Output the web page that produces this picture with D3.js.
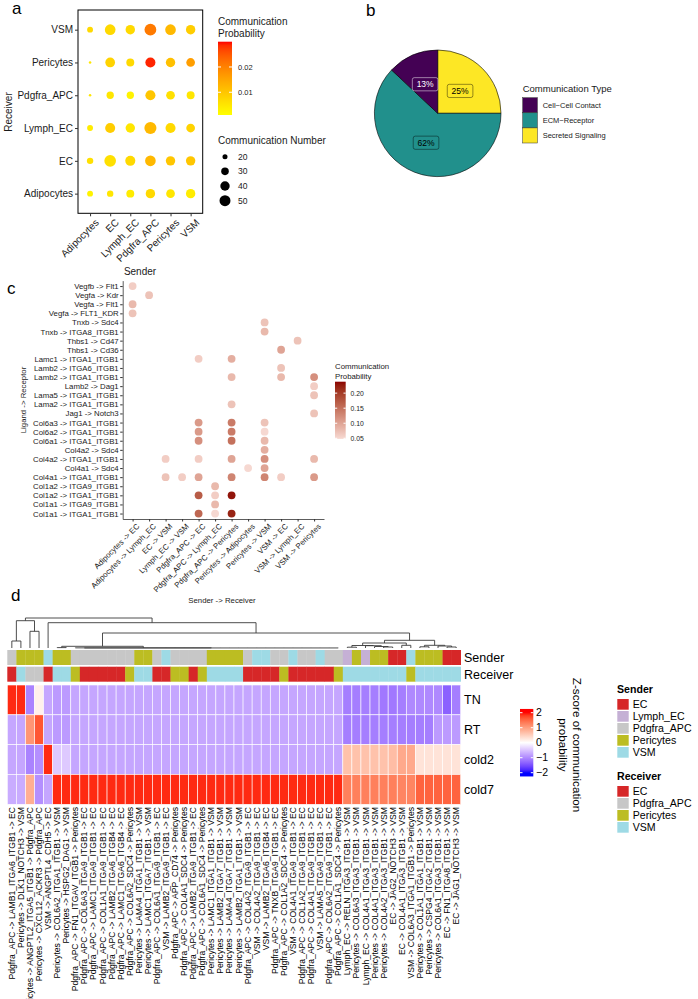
<!DOCTYPE html>
<html>
<head>
<meta charset="utf-8">
<script src="https://cdnjs.cloudflare.com/ajax/libs/d3/7.8.5/d3.min.js"></script>
<style>
  body { margin: 0; background: #fff; }
  svg { font-family: "Liberation Sans", Arial, sans-serif; }
</style>
</head>
<body>
<svg id="fig" width="698" height="999"></svg>
<script>
/*** DATA ***/
// a: bubble plot (rows = receiver, bottom to top; cols = sender)
var aCells = ["Adipocytes", "EC", "Lymph_EC", "Pdgfra_APC", "Pericytes", "VSM"];
var aNumber = [
  [23, 25, 32, 40, 36, 40],   // Adipocytes
  [25, 55, 44, 48, 40, 40],   // EC
  [23, 44, 40, 58, 44, 36],   // Lymph_EC
  [14, 29, 29, 44, 36, 32],   // Pdgfra_APC
  [14, 42, 32, 44, 40, 36],   // Pericytes
  [23, 48, 40, 56, 48, 40]    // VSM
];
var aProb = [
  [0.003, 0.005, 0.004, 0.007, 0.005, 0.004],
  [0.006, 0.006, 0.007, 0.012, 0.010, 0.010],
  [0.004, 0.009, 0.005, 0.012, 0.007, 0.008],
  [0.005, 0.005, 0.003, 0.010, 0.006, 0.005],
  [0.005, 0.008, 0.007, 0.029, 0.011, 0.016],
  [0.007, 0.007, 0.007, 0.021, 0.012, 0.009]
];
var aProbBreaks = [0.01, 0.02];
var aSizeBreaks = [20, 30, 40, 50];

// b: pie
var bTypes = ["Secreted Signaling", "ECM\u2212Receptor", "Cell\u2212Cell Contact"];
var bShare = [25, 62, 13];
var bLegend = ["Cell\u2212Cell Contact", "ECM\u2212Receptor", "Secreted Signaling"];

// c: ligand-receptor dot plot
var cPairs = ["Adipocytes -> EC", "Adipocytes -> Lymph_EC", "EC -> VSM", "Lymph_EC -> VSM",
  "Pdgfra_APC -> EC", "Pdgfra_APC -> Lymph_EC", "Pdgfra_APC -> Pericytes", "Pericytes -> Adipocytes",
  "Pericytes -> VSM", "VSM -> EC", "VSM -> Lymph_EC", "VSM -> Pericytes"];
var cLR = ["Vegfb -> Flt1", "Vegfa -> Kdr", "Vegfa -> Flt1", "Vegfa -> FLT1_KDR", "Tnxb -> Sdc4",
  "Tnxb -> ITGA8_ITGB1", "Thbs1 -> Cd47", "Thbs1 -> Cd36", "Lamc1 -> ITGA1_ITGB1", "Lamb2 -> ITGA6_ITGB1",
  "Lamb2 -> ITGA1_ITGB1", "Lamb2 -> Dag1", "Lama5 -> ITGA1_ITGB1", "Lama2 -> ITGA1_ITGB1", "Jag1 -> Notch3",
  "Col6a3 -> ITGA1_ITGB1", "Col6a2 -> ITGA1_ITGB1", "Col6a1 -> ITGA1_ITGB1", "Col4a2 -> Sdc4",
  "Col4a2 -> ITGA1_ITGB1", "Col4a1 -> Sdc4", "Col4a1 -> ITGA1_ITGB1", "Col1a2 -> ITGA9_ITGB1",
  "Col1a2 -> ITGA1_ITGB1", "Col1a1 -> ITGA9_ITGB1", "Col1a1 -> ITGA1_ITGB1"];
// [ligand-receptor, pair index, probability]
var cDots = [
  ["Vegfb -> Flt1", 0, 0.06], ["Vegfa -> Kdr", 1, 0.07], ["Vegfa -> Flt1", 0, 0.08],
  ["Vegfa -> FLT1_KDR", 0, 0.07], ["Tnxb -> Sdc4", 8, 0.07], ["Tnxb -> ITGA8_ITGB1", 8, 0.08],
  ["Thbs1 -> Cd47", 10, 0.07], ["Thbs1 -> Cd36", 9, 0.10],
  ["Lamc1 -> ITGA1_ITGB1", 4, 0.06], ["Lamc1 -> ITGA1_ITGB1", 6, 0.09],
  ["Lamb2 -> ITGA6_ITGB1", 9, 0.07],
  ["Lamb2 -> ITGA1_ITGB1", 6, 0.08], ["Lamb2 -> ITGA1_ITGB1", 9, 0.08], ["Lamb2 -> ITGA1_ITGB1", 11, 0.12],
  ["Lamb2 -> Dag1", 11, 0.06], ["Lama5 -> ITGA1_ITGB1", 11, 0.07], ["Lama2 -> ITGA1_ITGB1", 6, 0.07],
  ["Jag1 -> Notch3", 11, 0.07],
  ["Col6a3 -> ITGA1_ITGB1", 4, 0.11], ["Col6a3 -> ITGA1_ITGB1", 6, 0.14], ["Col6a3 -> ITGA1_ITGB1", 8, 0.07],
  ["Col6a2 -> ITGA1_ITGB1", 4, 0.11], ["Col6a2 -> ITGA1_ITGB1", 6, 0.14], ["Col6a2 -> ITGA1_ITGB1", 8, 0.05],
  ["Col6a1 -> ITGA1_ITGB1", 4, 0.12], ["Col6a1 -> ITGA1_ITGB1", 6, 0.15], ["Col6a1 -> ITGA1_ITGB1", 8, 0.08],
  ["Col4a2 -> Sdc4", 8, 0.09],
  ["Col4a2 -> ITGA1_ITGB1", 2, 0.06], ["Col4a2 -> ITGA1_ITGB1", 4, 0.06], ["Col4a2 -> ITGA1_ITGB1", 6, 0.10],
  ["Col4a2 -> ITGA1_ITGB1", 8, 0.12], ["Col4a2 -> ITGA1_ITGB1", 11, 0.08],
  ["Col4a1 -> Sdc4", 7, 0.05], ["Col4a1 -> Sdc4", 8, 0.10],
  ["Col4a1 -> ITGA1_ITGB1", 2, 0.07], ["Col4a1 -> ITGA1_ITGB1", 3, 0.06], ["Col4a1 -> ITGA1_ITGB1", 4, 0.10],
  ["Col4a1 -> ITGA1_ITGB1", 6, 0.13], ["Col4a1 -> ITGA1_ITGB1", 8, 0.13], ["Col4a1 -> ITGA1_ITGB1", 9, 0.06],
  ["Col4a1 -> ITGA1_ITGB1", 11, 0.11],
  ["Col1a2 -> ITGA9_ITGB1", 5, 0.08],
  ["Col1a2 -> ITGA1_ITGB1", 4, 0.17], ["Col1a2 -> ITGA1_ITGB1", 5, 0.06], ["Col1a2 -> ITGA1_ITGB1", 6, 0.23],
  ["Col1a1 -> ITGA9_ITGB1", 5, 0.08],
  ["Col1a1 -> ITGA1_ITGB1", 4, 0.16], ["Col1a1 -> ITGA1_ITGB1", 5, 0.05], ["Col1a1 -> ITGA1_ITGB1", 6, 0.22]
];
var cBreaks = [0.05, 0.10, 0.15, 0.20];

// d: heatmap of z-scores
var dLabels = [
  "Pdgfra_APC -> LAMB1_ITGA6_ITGB1 -> EC", "Pericytes -> DLK1_NOTCH3 -> VSM",
  "Pericytes -> ANGPTL2_ITGA5_ITGB1 -> Pdgfra_APC", "Pericytes -> CXCL12_ACKR3 -> Pdgfra_APC",
  "VSM -> ANGPTL4_CDH5 -> EC", "Pericytes -> COL6A2_ITGA1_ITGB1 -> VSM", "Pericytes -> HSPG2_DAG1 -> VSM",
  "Pdgfra_APC -> FN1_ITGAV_ITGB1 -> Pericytes", "Pdgfra_APC -> COL6A3_ITGA9_ITGB1 -> EC",
  "Pdgfra_APC -> LAMC1_ITGA9_ITGB1 -> EC", "Pdgfra_APC -> COL1A1_ITGA9_ITGB1 -> EC",
  "Pdgfra_APC -> LAMB2_ITGA6_ITGB4 -> EC", "Pdgfra_APC -> LAMC1_ITGA6_ITGB4 -> EC",
  "Pdgfra_APC -> COL6A2_SDC4 -> Pericytes", "Pericytes -> LAMA4_ITGA1_ITGB1 -> VSM",
  "Pericytes -> LAMC1_ITGA7_ITGB1 -> VSM", "Pdgfra_APC -> COL6A1_ITGA9_ITGB1 -> EC",
  "VSM -> LAMB2_ITGA9_ITGB1 -> EC", "Pdgfra_APC -> APP_CD74 -> Pericytes",
  "Pdgfra_APC -> COL4A1_SDC4 -> Pericytes", "Pdgfra_APC -> LAMB2_ITGA9_ITGB1 -> EC",
  "Pdgfra_APC -> COL6A1_SDC4 -> Pericytes", "Pericytes -> LAMC1_ITGA1_ITGB1 -> VSM",
  "Pericytes -> LAMB2_ITGA7_ITGB1 -> VSM", "Pericytes -> LAMA4_ITGA7_ITGB1 -> VSM",
  "Pericytes -> LAMB2_ITGA1_ITGB1 -> VSM", "Pdgfra_APC -> COL4A2_ITGA9_ITGB1 -> EC",
  "VSM -> COL4A2_ITGA9_ITGB1 -> EC", "VSM -> LAMB2_ITGA6_ITGB4 -> EC",
  "Pdgfra_APC -> TNXB_ITGA9_ITGB1 -> EC", "Pdgfra_APC -> COL1A2_SDC4 -> Pericytes",
  "VSM -> COL4A1_ITGA9_ITGB1 -> EC", "Pdgfra_APC -> COL1A2_ITGA9_ITGB1 -> EC",
  "Pdgfra_APC -> COL4A1_ITGA9_ITGB1 -> EC", "VSM -> LAMA5_ITGA9_ITGB1 -> EC",
  "Pdgfra_APC -> COL6A2_ITGA9_ITGB1 -> EC", "Pdgfra_APC -> COL1A1_SDC4 -> Pericytes",
  "Lymph_EC -> RELN_ITGA3_ITGB1 -> VSM", "Pericytes -> COL6A3_ITGA3_ITGB1 -> VSM",
  "Lymph_EC -> COL4A1_ITGA3_ITGB1 -> VSM", "Pericytes -> COL4A1_ITGA3_ITGB1 -> VSM",
  "Pericytes -> COL4A2_ITGA3_ITGB1 -> VSM", "EC -> JAG2_NOTCH3 -> VSM",
  "EC -> COL4A1_ITGA3_ITGB1 -> VSM", "VSM -> COL6A3_ITGA1_ITGB1 -> Pericytes",
  "Pericytes -> COL1A1_ITGA1_ITGB1 -> VSM", "Pericytes -> CSPG4_ITGA2_ITGB1 -> VSM",
  "Pericytes -> COL6A1_ITGA3_ITGB1 -> VSM", "EC -> FN1_ITGA8_ITGB1 -> VSM", "EC -> JAG1_NOTCH3 -> VSM"
];
var dRows = ["TN", "RT", "cold2", "cold7"];
var zTN = [1.9, 1.9, -1.05, 0.15, -0.75, -0.85, -0.85, -0.75, -0.75, -0.75,
  -0.75, -0.75, -0.75, -0.75, -0.75, -0.75, -0.75, -0.75, -0.75, -0.75,
  -0.75, -0.75, -0.75, -0.75, -0.75, -0.75, -0.75, -0.75, -0.75, -0.75,
  -0.75, -0.75, -0.75, -0.75, -0.75, -0.75, -0.75, -1.1, -1.1, -1.1,
  -1.1, -1.15, -1.15, -1.1, -1.0, -1.0, -1.0, -1.0, -1.35, -1.1];
var zRT = [-0.75, -0.75, 1.1, 1.65, -0.75, -0.85, -0.85, -0.75, -0.75, -0.75,
  -0.75, -0.75, -0.75, -0.75, -0.75, -0.75, -0.75, -0.75, -0.75, -0.75,
  -0.75, -0.75, -0.75, -0.75, -0.75, -0.75, -0.75, -0.75, -0.75, -0.75,
  -0.75, -0.75, -0.75, -0.75, -0.75, -0.75, -0.75, -1.1, -1.1, -1.1,
  -1.1, -1.1, -1.1, -1.1, -1.1, -1.1, -1.1, -0.85, -0.85, -0.85];
var zCold2 = [-0.75, -0.75, -1.05, -0.95, 1.9, -0.45, -0.45, -0.75, -0.75, -0.75,
  -0.75, -0.75, -0.75, -0.75, -0.75, -0.75, -0.75, -0.75, -0.75, -0.75,
  -0.75, -0.75, -0.75, -0.75, -0.75, -0.75, -0.75, -0.75, -0.75, -0.75,
  -0.75, -0.75, -0.75, -0.75, -0.75, -0.75, -0.75, 0.65, 0.65, 0.65,
  0.65, 0.65, 0.7, 0.9, 0.9, 0.3, 0.3, 0.3, 0.3, 0.3];
var zCold7 = [-0.7, -0.7, 0.85, -0.95, -0.75, 1.9, 1.9, 1.9, 1.9, 1.9,
  1.9, 1.9, 1.9, 1.9, 1.9, 1.9, 1.9, 1.9, 1.9, 1.9,
  1.9, 1.9, 1.9, 1.9, 1.9, 1.9, 1.9, 1.9, 1.9, 1.9,
  1.9, 1.9, 1.9, 1.9, 1.9, 1.9, 1.9, 1.3, 1.3, 1.3,
  1.3, 1.3, 1.3, 1.25, 1.25, 1.55, 1.55, 1.55, 1.55, 1.55];
var zBreaks = [-2, -1, 0, 1, 2];
var dCellTypes = ["EC", "Lymph_EC", "Pdgfra_APC", "Pericytes", "VSM"];
var dCellColors = ["#D62728", "#C5B0D5", "#C7C7C7", "#BCBD22", "#9EDAE5"];
var dReceivers = ["EC", "Pdgfra_APC", "Pericytes", "VSM"];
// column dendrogram: [merge height, child, child, ...]; leaves are column numbers
var dTree = [30,
  [27.3, [7, 1, 2], [16.7, 3, 4]],
  [25.3, 5,
    [15,
      [1.7, [0.4, 6, 7], [0.15, 8, [0.05, 9, 10, 11, 12, 13, 14, 15, 16, 17, 18, 19, 20, 21, 22, 23,
        24, 25, 26, 27, 28, 29, 30, 31, 32, 33, 34, 35, 36, 37]]],
      [7.7,
        [5, [2.5, [0.8, 38, 39], [2.3, 40, [1.5, 41, [1, 42, 43]]]], [2.7, 44, 45]],
        [2.7, [1.2, 46, 47], [2, 48, [1, 49, 50]]]]]]];

/*** SETUP ***/
var svg = d3.select("#fig");
svg.append("rect").attr("width", 698).attr("height", 999).attr("fill", "#fff");
var defs = svg.append("defs");
var txt = "#1a1a1a";

function panelLetter(s, x, y) {
  svg.append("text").attr("x", x).attr("y", y).attr("font-size", "17px").attr("fill", "#000").text(s);
}
function gradient(id, scale, lo, hi) {
  var g = defs.append("linearGradient").attr("id", id)
    .attr("x1", 0).attr("x2", 0).attr("y1", 1).attr("y2", 0);
  d3.range(0, 1.0001, 0.05).forEach(t => {
    g.append("stop").attr("offset", t).attr("stop-color", scale(lo + t * (hi - lo)));
  });
}

/*** PANEL A ***/
panelLetter("a", 12, 14);
var ga = svg.append("g");
var ax = d3.scalePoint().domain(aCells).range([78, 202.7]).padding(0.6);
var ay = d3.scalePoint().domain(aCells).range([213.3, 10]).padding(0.6);
var aCol = d3.scaleLinear().domain([0.001, 0.030]).range(["#ffff00", "#ff0000"])
  .interpolate(d3.interpolateLab).clamp(true);
var aArea = d3.scaleLinear().domain([12, 50]).range([0, 30]);
function aR(n) { return Math.sqrt(Math.max(aArea(n), 1.6)); }

var aPoints = [];
aCells.forEach((rec, ri) => aCells.forEach((snd, si) => {
  aPoints.push({rec: rec, snd: snd, n: aNumber[ri][si], p: aProb[ri][si]});
}));
ga.append("g").selectAll("circle").data(aPoints).enter().append("circle")
  .attr("cx", d => ax(d.snd)).attr("cy", d => ay(d.rec))
  .attr("r", d => aR(d.n)).attr("fill", d => aCol(d.p));
ga.append("rect").attr("x", 78).attr("y", 10).attr("width", 124.7).attr("height", 203.3)
  .attr("fill", "none").attr("stroke", "#000").attr("stroke-width", 1);

var ayAxis = ga.append("g").attr("transform", "translate(78,0)")
  .call(d3.axisLeft(ay).tickSizeInner(3).tickSizeOuter(0).tickPadding(2));
var axAxis = ga.append("g").attr("transform", "translate(0,213.3)")
  .call(d3.axisBottom(ax).tickSizeInner(3).tickSizeOuter(0).tickPadding(2));
[ayAxis, axAxis].forEach(a => {
  a.select(".domain").remove();
  a.selectAll("line").attr("stroke", "#333");
  a.selectAll("text").attr("font-size", "10px").attr("fill", txt).attr("font-family", null);
});
axAxis.selectAll("text").attr("y", 0).attr("dy", "0.7em").attr("text-anchor", "end")
  .attr("transform", "translate(4,5) rotate(-45)");
ga.append("text").attr("x", 140).attr("y", 275).attr("text-anchor", "middle")
  .attr("font-size", "10px").attr("fill", txt).text("Sender");
ga.append("text").attr("transform", "translate(12,112) rotate(-90)").attr("text-anchor", "middle")
  .attr("font-size", "10px").attr("fill", txt).text("Receiver");

// legends
ga.append("text").attr("x", 218).attr("y", 25).attr("font-size", "10px").attr("fill", txt).text("Communication");
ga.append("text").attr("x", 218).attr("y", 37).attr("font-size", "10px").attr("fill", txt).text("Probability");
gradient("gradA", aCol, 0.001, 0.030);
var aLeg = d3.scaleLinear().domain([0.001, 0.030]).range([115, 41.7]);
ga.append("rect").attr("x", 218).attr("y", 41.7).attr("width", 14).attr("height", 73.3).attr("fill", "url(#gradA)");
aProbBreaks.forEach(b => {
  ga.append("line").attr("x1", 218).attr("x2", 221).attr("y1", aLeg(b)).attr("y2", aLeg(b)).attr("stroke", "#fff");
  ga.append("line").attr("x1", 229).attr("x2", 232).attr("y1", aLeg(b)).attr("y2", aLeg(b)).attr("stroke", "#fff");
  ga.append("text").attr("x", 238).attr("y", aLeg(b)).attr("dy", "0.35em").attr("font-size", "7.5px")
    .attr("fill", txt).text(d3.format(".2f")(b));
});
ga.append("text").attr("x", 218).attr("y", 143.5).attr("font-size", "10px").attr("fill", txt).text("Communication Number");
var aSizeY = d3.scalePoint().domain(aSizeBreaks).range([156.7, 200.7]);
aSizeBreaks.forEach(b => {
  ga.append("circle").attr("cx", 225).attr("cy", aSizeY(b)).attr("r", aR(b)).attr("fill", "#000");
  ga.append("text").attr("x", 238).attr("y", aSizeY(b)).attr("dy", "0.35em").attr("font-size", "8.5px")
    .attr("fill", txt).text(b);
});

/*** PANEL B ***/
panelLetter("b", 366, 16);
var gb = svg.append("g").attr("transform", "translate(437.7,113.3)");
var bColor = d3.scaleOrdinal().domain(bLegend).range(["#440154", "#21908C", "#FDE725"]);
var pieData = d3.pie().sort(null).value(d => d)(bShare);
var arc = d3.arc().innerRadius(0).outerRadius(63.3);
gb.selectAll("path").data(pieData).enter().append("path")
  .attr("d", arc).attr("fill", (d, i) => bColor(bTypes[i]))
  .attr("stroke", "#000").attr("stroke-width", 0.6);
pieData.forEach((d, i) => {
  var c = arc.centroid(d);
  var light = bTypes[i] === "Cell\u2212Cell Contact";
  var col = light ? "#fff" : "#000";
  gb.append("rect").attr("x", c[0] - 12.8).attr("y", c[1] - 6.6).attr("width", 25.6).attr("height", 13.2)
    .attr("rx", 2).attr("fill", bColor(bTypes[i])).attr("stroke", col)
    .attr("stroke-opacity", light ? 0.7 : 0.6).attr("stroke-width", 0.7);
  gb.append("text").attr("x", c[0]).attr("y", c[1]).attr("dy", "0.36em").attr("text-anchor", "middle")
    .attr("font-size", "8.5px").attr("fill", col).text(d.data + "%");
});
var bl = svg.append("g");
bl.append("text").attr("x", 522.7).attr("y", 92).attr("font-size", "9.5px").attr("fill", txt).text("Communication Type");
var bKeyY = d3.scaleBand().domain(bLegend).range([97.7, 143]);
bLegend.forEach(t => {
  bl.append("rect").attr("x", 522.7).attr("y", bKeyY(t)).attr("width", 14.7).attr("height", bKeyY.bandwidth())
    .attr("fill", bColor(t)).attr("stroke", "#333").attr("stroke-width", 0.5);
  bl.append("text").attr("x", 542.7).attr("y", bKeyY(t) + bKeyY.bandwidth() / 2).attr("dy", "0.35em")
    .attr("font-size", "7.5px").attr("fill", txt).text(t);
});

/*** PANEL C ***/
panelLetter("c", 7, 294);
var gc = svg.append("g");
var cx = d3.scalePoint().domain(cPairs).range([122.7, 324]).padding(0.6);
var cy = d3.scalePoint().domain(cLR).range([280.6, 519]).padding(0.6);
var cCol = d3.scaleLinear().domain([0.048, 0.238]).range(["#f7dad3", "#8b0000"])
  .interpolate(d3.interpolateLab).clamp(true);
gc.append("g").selectAll("circle").data(cDots).enter().append("circle")
  .attr("cx", d => cx(cPairs[d[1]])).attr("cy", d => cy(d[0]))
  .attr("r", 3.9).attr("fill", d => cCol(d[2]));
var cyAxis = gc.append("g").attr("transform", "translate(122.7,0)")
  .call(d3.axisLeft(cy).tickSizeInner(2.5).tickSizeOuter(0).tickPadding(1.5));
var cxAxis = gc.append("g").attr("transform", "translate(0,519)")
  .call(d3.axisBottom(cx).tickSizeInner(2.5).tickSizeOuter(0).tickPadding(1.5));
[cyAxis, cxAxis].forEach(a => {
  a.select(".domain").attr("stroke", "#333").attr("stroke-width", 0.8);
  a.selectAll("line").attr("stroke", "#333");
  a.selectAll("text").attr("font-size", "7.8px").attr("fill", txt).attr("font-family", null);
});
cxAxis.selectAll("text").attr("y", 0).attr("dy", "0.7em").attr("text-anchor", "end")
  .attr("transform", "translate(3,4) rotate(-45)");
gc.append("text").attr("transform", "translate(26,400) rotate(-90)").attr("text-anchor", "middle")
  .attr("font-size", "7.8px").attr("fill", txt).text("Ligand -> Receptor");
gc.append("text").attr("x", 222).attr("y", 603).attr("text-anchor", "middle")
  .attr("font-size", "7.8px").attr("fill", txt).text("Sender -> Receiver");
gc.append("text").attr("x", 335).attr("y", 369).attr("font-size", "7.8px").attr("fill", txt).text("Communication");
gc.append("text").attr("x", 335).attr("y", 379).attr("font-size", "7.8px").attr("fill", txt).text("Probability");
gradient("gradC", cCol, 0.048, 0.238);
var cLeg = d3.scaleLinear().domain([0.048, 0.238]).range([438.9, 381.7]);
gc.append("rect").attr("x", 335).attr("y", 381.7).attr("width", 10.7).attr("height", 57.2).attr("fill", "url(#gradC)");
cBreaks.forEach(b => {
  gc.append("line").attr("x1", 335).attr("x2", 337.2).attr("y1", cLeg(b)).attr("y2", cLeg(b)).attr("stroke", "#fff");
  gc.append("line").attr("x1", 343.5).attr("x2", 345.7).attr("y1", cLeg(b)).attr("y2", cLeg(b)).attr("stroke", "#fff");
  gc.append("text").attr("x", 350.5).attr("y", cLeg(b)).attr("dy", "0.35em").attr("font-size", "6.8px")
    .attr("fill", txt).text(d3.format(".2f")(b));
});

/*** PANEL D ***/
panelLetter("d", 11, 601);
var gd = svg.append("g");
var dZ = [zTN, zRT, zCold2, zCold7];
var hx = d3.scaleBand().domain(d3.range(1, dLabels.length + 1)).range([7.3, 460.7]);
var hy = d3.scaleBand().domain(dRows).range([685, 804.3]);
var zColor = d3.scaleLinear().domain([-2, 0, 2]).range(["#0000ff", "#ffffff", "#ff0000"])
  .interpolate(d3.interpolateLab).clamp(true);
var cellColor = d3.scaleOrdinal().domain(dCellTypes).range(dCellColors);
function mid(i) { return hx(i) + hx.bandwidth() / 2; }

// annotations
var cols = dLabels.map((l, i) => {
  var p = l.split(" -> ");
  return {i: i + 1, label: l, sender: p[0], receiver: p[2]};
});
gd.append("g").selectAll("rect").data(cols).enter().append("rect")
  .attr("x", d => hx(d.i)).attr("y", 650).attr("width", hx.bandwidth() + 0.3).attr("height", 15)
  .attr("fill", d => cellColor(d.sender));
gd.append("g").selectAll("rect").data(cols).enter().append("rect")
  .attr("x", d => hx(d.i)).attr("y", 666.7).attr("width", hx.bandwidth() + 0.3).attr("height", 15)
  .attr("fill", d => cellColor(d.receiver));

// cells
dRows.forEach((row, ri) => {
  gd.append("g").selectAll("rect").data(dZ[ri]).enter().append("rect")
    .attr("x", (d, i) => hx(i + 1)).attr("y", hy(row))
    .attr("width", hx.bandwidth()).attr("height", hy.bandwidth())
    .attr("fill", d => zColor(d)).attr("stroke", "#fff").attr("stroke-width", 0.6);
});

// row labels
var rowLab = [["Sender", 657.5], ["Receiver", 674.2]].concat(dRows.map(r => [r, hy(r) + hy.bandwidth() / 2]));
rowLab.forEach(r => {
  gd.append("text").attr("x", 464).attr("y", r[1]).attr("dy", "0.35em").attr("font-size", "12.5px")
    .attr("fill", "#000").text(r[0]);
});

// column labels
gd.append("g").selectAll("text").data(cols).enter().append("text")
  .attr("transform", d => "translate(" + mid(d.i) + ",807) rotate(-90)")
  .attr("dy", "0.35em").attr("text-anchor", "end").attr("font-size", "8.6px").attr("fill", "#000")
  .text(d => d.label);

// dendrogram
var dh = d3.scaleLinear().domain([0, 30]).range([648, 618]);
var dendro = gd.append("g").attr("stroke", "#3a3a3a").attr("stroke-width", 0.9).attr("fill", "none");
function drawTree(node) {
  if (typeof node === "number") return {x: mid(node), h: 0};
  var h = node[0];
  var kids = node.slice(1).map(drawTree);
  var x0 = kids[0].x, x1 = kids[kids.length - 1].x;
  dendro.append("line").attr("x1", x0).attr("x2", x1).attr("y1", dh(h)).attr("y2", dh(h));
  kids.forEach(k => {
    dendro.append("line").attr("x1", k.x).attr("x2", k.x).attr("y1", dh(h)).attr("y2", dh(k.h));
  });
  return {x: (x0 + x1) / 2, h: h};
}
drawTree(dTree);

// z-score legend
var zLeg = d3.scaleLinear().domain([-2, 2]).range([772.7, 712.7]);
gradient("gradD", zColor, -2.25, 2.25);
gd.append("rect").attr("x", 520).attr("y", zLeg(2.25)).attr("width", 13.3)
  .attr("height", zLeg(-2.25) - zLeg(2.25)).attr("fill", "url(#gradD)");
zBreaks.forEach(b => {
  gd.append("line").attr("x1", 520).attr("x2", 522.5).attr("y1", zLeg(b)).attr("y2", zLeg(b)).attr("stroke", "#fff");
  gd.append("line").attr("x1", 530.8).attr("x2", 533.3).attr("y1", zLeg(b)).attr("y2", zLeg(b)).attr("stroke", "#fff");
  gd.append("text").attr("x", 536).attr("y", zLeg(b)).attr("dy", "0.35em").attr("font-size", "10.5px")
    .attr("fill", "#000").text(b < 0 ? "\u2212" + Math.abs(b) : b);
});
var zt = gd.append("text").attr("transform", "translate(573,745) rotate(90)").attr("text-anchor", "middle")
  .attr("font-size", "11.7px").attr("fill", "#000");
zt.append("tspan").attr("x", 0).attr("dy", 0).text("Z-score of communication");
zt.append("tspan").attr("x", 0).attr("dy", "1.2em").text("probability");

// annotation legends
function annLegend(title, items, y0) {
  gd.append("text").attr("x", 617).attr("y", y0).attr("font-size", "10.6px").attr("font-weight", "bold")
    .attr("fill", "#000").text(title);
  var ky = d3.scaleBand().domain(items).range([y0 + 6, y0 + 6 + 12 * items.length]);
  items.forEach(t => {
    gd.append("rect").attr("x", 617.3).attr("y", ky(t)).attr("width", 11.4).attr("height", 10.7)
      .attr("fill", cellColor(t));
    gd.append("text").attr("x", 632.7).attr("y", ky(t) + 5.4).attr("dy", "0.35em").attr("font-size", "10.6px")
      .attr("fill", "#000").text(t);
  });
}
annLegend("Sender", dCellTypes, 693);
annLegend("Receiver", dReceivers, 780);
</script>
</body>
</html>
